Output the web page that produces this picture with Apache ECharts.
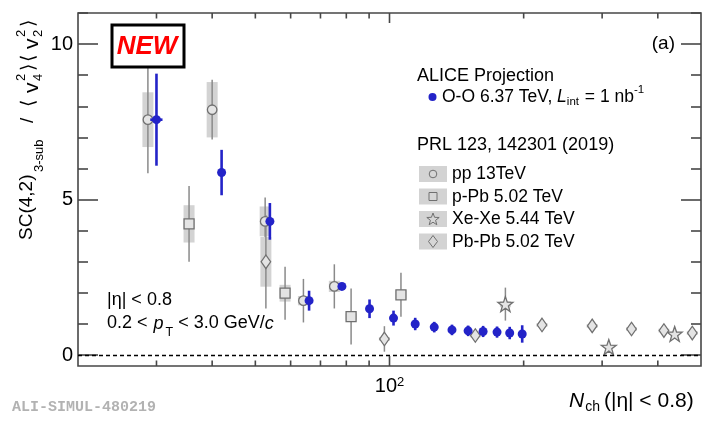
<!DOCTYPE html>
<html><head><meta charset="utf-8">
<script src="https://cdn.jsdelivr.net/npm/echarts@6/dist/echarts.min.js"></script>
<style>html,body{margin:0;padding:0;background:#fff}#c{width:718px;height:425px}</style>
</head><body><div id="c"></div>
<script>
// ---------------- data ----------------
const ooX    = [30.0, 42.0, 53.9, 66.0, 78.2, 90.2, 102.1, 114.2, 126.0, 138.1, 150.1, 162.2, 174.3, 186.1, 198.5];
const ooY    = [7.57, 5.87, 4.30, 1.75, 2.21, 1.49, 1.19, 1.00, 0.90, 0.81, 0.78, 0.76, 0.74, 0.71, 0.68];
const ooErr  = [1.48, 0.73, 0.59, 0.32, 0.10, 0.30, 0.24, 0.20, 0.17, 0.17, 0.17, 0.18, 0.18, 0.20, 0.28];
const ooXErr = [0.95, 0, 0, 0, 0, 0, 0, 0, 0, 0, 0, 0, 0, 0, 0];

const ppX    = [28.7, 40.0, 52.6, 64.1, 75.2];
const ppY    = [7.57, 7.89, 4.30, 1.75, 2.21];
const ppStat = [1.72, 0.96, 0.77, 0.70, 0.71];
const ppSys  = [0.88, 0.89, 0.48, 0.15, 0.18];

const pPbX    = [35.5, 58.3, 82.0, 106.1];
const pPbY    = [4.22, 1.99, 1.24, 1.94];
const pPbStat = [1.22, 0.85, 0.90, 0.71];
const pPbSys  = [0.60, 0.27, 0.10, 0.15];

const xeX    = [182.0, 310.5, 436.4];
const xeY    = [1.64, 0.26, 0.68];
const xeStat = [0.53, 0.05, 0.05];
const xeSys  = [0.10, 0.03, 0.03];

const pbX    = [52.8, 97.4, 155.8, 219.9, 285.0, 349.2, 412.8, 478.0];
const pbY    = [3.00, 0.52, 0.63, 0.97, 0.94, 0.84, 0.79, 0.71];
const pbStat = [1.50, 0.41, 0.05, 0.05, 0.05, 0.05, 0.05, 0.05];
const pbSys  = [0.80, 0.06, 0.06, 0.06, 0.06, 0.06, 0.06, 0.06];

const xMinorTicks = [30, 40, 50, 60, 70, 80, 90, 200, 300, 400];
const xMajorTicks = [100];
const yMinorTicks = [1, 2, 3, 4, 6, 7, 8, 9, 11];
const yMajorTicks = [0, 5, 10];
const yLabelVals = [0, 5, 10];

const X_MIN = 20, X_MAX = 500, Y_MIN = -0.35, Y_MAX = 11;

// ---------------- helpers ----------------
const FONT = '"Liberation Sans", Arial, Helvetica, sans-serif';
const mctx = document.createElement('canvas').getContext('2d');
function fnt(s) { return (s.it ? 'italic ' : '') + (s.b ? 'bold ' : '') + s.fs + 'px ' + (s.ff || FONT); }
function textEl(t, x, y, f, fill, align, extra) {
  return Object.assign({
    type: 'text', x: x, y: y, z: 50,
    style: { text: t, font: f, fill: fill || '#000', textAlign: align || 'left', textVerticalAlign: 'middle', align: align || 'left', verticalAlign: 'middle' }
  }, extra || {});
}
function textRun(segs, x0, y0, fill) {
  const els = []; let cx = x0;
  for (const s of segs) {
    cx += (s.dx || 0);
    const f = fnt(s);
    mctx.font = f;
    const w = mctx.measureText(s.t).width;
    els.push(textEl(s.t, cx, y0 + (s.dy || 0), f, s.fill || fill));
    if (!s.noAdv) cx += w;
  }
  return els;
}
const zip4 = (a, b, c, d) => a.map((v, i) => [v, b[i], c[i], d[i]]);

const GRAY_BAR = '#8a8a8a', BOX = '#d3d3d3', MK_STROKE = '#707070', MK_FILL = '#e4e4e4';
const BLUE = '#2323c8';
const FRAME = '#474747';
const STAR = 'path://M50 0 L61.76 33.82 L97.55 34.55 L69.02 56.18 L79.39 90.45 L50 70 L20.61 90.45 L30.98 56.18 L2.45 34.55 L38.24 33.82 Z';

function errRender(color, lw, boxHalf) {
  return function (params, api) {
    const x = api.value(0), y = api.value(1), s = api.value(2), sy = api.value(3);
    const c = api.coord([x, y]);
    const children = [];
    if (sy > 0) {
      const bt = api.coord([x, y + sy]), bb = api.coord([x, y - sy]);
      children.push({ type: 'rect', shape: { x: c[0] - boxHalf, y: bt[1], width: 2 * boxHalf, height: bb[1] - bt[1] }, style: { fill: BOX } });
    }
    if (s > 0) {
      const t = api.coord([x, y + s]), b = api.coord([x, y - s]);
      children.push({ type: 'line', shape: { x1: c[0], y1: t[1], x2: c[0], y2: b[1] }, style: { stroke: color, lineWidth: lw } });
    }
    return { type: 'group', children: children };
  };
}
function blueRender(params, api) {
  const x = api.value(0), y = api.value(1), s = api.value(2), xe = api.value(3);
  const c = api.coord([x, y]), t = api.coord([x, y + s]), b = api.coord([x, y - s]);
  const children = [{ type: 'line', shape: { x1: c[0], y1: t[1], x2: c[0], y2: b[1] }, style: { stroke: BLUE, lineWidth: 2.6 } }];
  if (xe > 0) {
    const l = api.coord([x - xe, y]), r = api.coord([x + xe, y]);
    children.push({ type: 'line', shape: { x1: l[0], y1: c[1], x2: r[0], y2: c[1] }, style: { stroke: BLUE, lineWidth: 2.6 } });
  }
  return { type: 'group', children: children };
}
// x-axis frame ticks on the log axis (bottom: dir=-1, top: dir=+1)
function xTickSeries(vals, edgeY, dir, len) {
  return { type: 'custom', z: 6, encode: { x: 0, y: 1 }, data: vals.map(v => [v, edgeY]),
    renderItem: function (params, api) {
      const c = api.coord([api.value(0), api.value(1)]);
      return { type: 'line', shape: { x1: c[0], y1: c[1], x2: c[0], y2: c[1] + dir * len }, style: { stroke: FRAME, lineWidth: 1.6 } };
    } };
}
function grayScatter(name, xs, ys, symbol, size) {
  return { type: 'scatter', name: name, z: 3, symbol: symbol, symbolSize: size,
    itemStyle: { color: MK_FILL, borderColor: MK_STROKE, borderWidth: 1.3, opacity: 1 },
    data: xs.map((v, i) => [v, ys[i]]) };
}
function grayErr(xs, ys, st, sy) {
  return { type: 'custom', z: 2, renderItem: errRender(GRAY_BAR, 1.5, 5.5), encode: { x: 0, y: 1 }, data: zip4(xs, ys, st, sy) };
}
function yAx(pos, vals, len, withLabels) {
  return {
    type: 'value', min: Y_MIN, max: Y_MAX, position: pos,
    axisLine: { show: false }, splitLine: { show: false },
    axisTick: { show: true, inside: true, length: len, customValues: vals, lineStyle: { color: FRAME, width: 1.6 } },
    axisLabel: withLabels
      ? { customValues: yLabelVals, fontSize: 20, fontFamily: FONT, color: '#000', margin: 5 }
      : { show: false }
  };
}

// ---------------- chart ----------------
const chart = echarts.init(document.getElementById('c'));
chart.setOption({
  animation: false,
  grid: { left: 78, right: 17, top: 13, bottom: 59, show: true, borderColor: FRAME, borderWidth: 1.6 },
  xAxis: {
    type: 'log', logBase: 10, min: X_MIN, max: X_MAX,
    axisLine: { show: false }, axisTick: { show: false }, splitLine: { show: false }, minorTick: { show: false },
    axisLabel: {
      margin: 10, formatter: v => (Math.abs(v - 100) < 1e-6 ? '{a|10}{b|2}' : ''),
      rich: { a: { fontSize: 20, fontFamily: FONT, color: '#000' }, b: { fontSize: 13, fontFamily: FONT, color: '#000', verticalAlign: 'top', lineHeight: 8 } }
    }
  },
  yAxis: [
    yAx('left', yMajorTicks, 20, true),
    yAx('left', yMinorTicks, 10, false),
    yAx('right', yMajorTicks, 20, false),
    yAx('right', yMinorTicks, 10, false)
  ],
  series: [
    xTickSeries(xMinorTicks, Y_MIN, -1, 5.5),
    xTickSeries(xMajorTicks, Y_MIN, -1, 10),
    xTickSeries(xMinorTicks, Y_MAX, 1, 5.5),
    xTickSeries(xMajorTicks, Y_MAX, 1, 10),
    grayErr(ppX, ppY, ppStat, ppSys),
    grayErr(pPbX, pPbY, pPbStat, pPbSys),
    grayErr(xeX, xeY, xeStat, xeSys),
    grayErr(pbX, pbY, pbStat, pbSys),
    grayScatter('pp 13TeV', ppX, ppY, 'circle', 9.5),
    grayScatter('p-Pb 5.02 TeV', pPbX, pPbY, 'rect', 10),
    grayScatter('Xe-Xe 5.44 TeV', xeX, xeY, STAR, 15),
    grayScatter('Pb-Pb 5.02 TeV', pbX, pbY, 'diamond', [9.5, 13.5]),
    { type: 'custom', z: 4, renderItem: blueRender, encode: { x: 0, y: 1 }, data: zip4(ooX, ooY, ooErr, ooXErr) },
    { type: 'scatter', name: 'O-O 6.37 TeV', z: 5, symbol: 'circle', symbolSize: 9, itemStyle: { color: BLUE, opacity: 1 },
      data: ooX.map((v, i) => [v, ooY[i]]),
      markLine: { silent: true, symbol: ['none', 'none'], label: { show: false },
        lineStyle: { color: '#000', type: [4, 3], width: 1.3 }, data: [{ yAxis: 0 }] } }
  ]
});

// ---------------- graphic (text, legend) ----------------
const G = [];
G.push({ type: 'rect', z: 60, shape: { x: 112, y: 25, width: 72, height: 42 }, style: { fill: '#fff', stroke: '#000', lineWidth: 3 } });
G.push(Object.assign(textEl('NEW', 147, 47, 'italic bold 26px ' + FONT, '#ff0000', 'center'), { z: 61 }));
G.push(textEl('(a)', 675, 44, '19px ' + FONT, '#000', 'right'));
G.push(textEl('ALICE Projection', 417, 76, '18px ' + FONT));
G.push({ type: 'circle', z: 50, shape: { cx: 432.5, cy: 97, r: 4 }, style: { fill: BLUE } });
textRun([
  { t: 'O-O 6.37 TeV, ', fs: 17.5 },
  { t: 'L', fs: 17.5, it: true },
  { t: 'int', fs: 11.5, dy: 5 },
  { t: ' = 1 nb', fs: 17.5, dx: 1 },
  { t: '-1', fs: 11.5, dy: -7 }
], 442, 97).forEach(e => G.push(e));
G.push(textEl('PRL 123, 142301 (2019)', 417, 145, '18px ' + FONT));
const legRows = [
  { label: 'pp 13TeV', y: 174, sym: 'circle' },
  { label: 'p-Pb 5.02 TeV', y: 196.5, sym: 'square' },
  { label: 'Xe-Xe 5.44 TeV', y: 219, sym: 'star' },
  { label: 'Pb-Pb 5.02 TeV', y: 241.5, sym: 'diamond' }
];
function legSt() { return { fill: '#d6d6d6', stroke: MK_STROKE, lineWidth: 1 }; }
legRows.forEach(r => {
  G.push({ type: 'rect', z: 49, shape: { x: 419, y: r.y - 8, width: 28, height: 16 }, style: { fill: BOX } });
  const cx = 433, cy = r.y;
  if (r.sym === 'circle') G.push({ type: 'circle', z: 50, shape: { cx: cx, cy: cy, r: 3.8 }, style: legSt() });
  if (r.sym === 'square') G.push({ type: 'rect', z: 50, shape: { x: cx - 4, y: cy - 4, width: 8, height: 8 }, style: legSt() });
  if (r.sym === 'diamond') G.push({ type: 'polygon', z: 50, shape: { points: [[cx, cy - 6], [cx + 4.5, cy], [cx, cy + 6], [cx - 4.5, cy]] }, style: legSt() });
  if (r.sym === 'star') {
    const pts = [];
    for (let k = 0; k < 10; k++) {
      const a = -Math.PI / 2 + k * Math.PI / 5, rr = k % 2 ? 2.7 : 6.5;
      pts.push([cx + rr * Math.cos(a), cy + 0.5 + rr * Math.sin(a)]);
    }
    G.push({ type: 'polygon', z: 50, shape: { points: pts }, style: legSt() });
  }
  G.push(textEl(r.label, 452, r.y + 0.5, '17.5px ' + FONT));
});
G.push(textEl('|η| < 0.8', 107, 300.5, '18px ' + FONT));
textRun([
  { t: '0.2 < ', fs: 18 },
  { t: 'p', fs: 18, it: true, dx: 1 },
  { t: 'T', fs: 12.5, dy: 9, dx: 2 },
  { t: '< 3.0 GeV/', fs: 18, dx: 5 },
  { t: 'c', fs: 18, it: true }
], 107, 323.5).forEach(e => G.push(e));
textRun([
  { t: 'N', fs: 21, it: true },
  { t: 'ch', fs: 14, dy: 6, dx: 1 },
  { t: '(|η| < 0.8)', fs: 21, dx: 4 }
], 569, 401).forEach(e => G.push(e));
const ytt = [
  ['SC(4,2)', 0, 0, 19], ['3-sub', 68, 12, 13], ['/', 117, 1, 19], ['⟨', 133, 2, 19],
  ['v', 147, 5, 21], ['2', 159, -6, 13], ['4', 159, 11, 13], ['⟩', 169, 2, 19],
  ['⟨', 178, 2, 19], ['v', 191, 5, 21], ['2', 203, -6, 13], ['2', 203, 11, 13], ['⟩', 213, 2, 19]
];
G.push({ type: 'group', x: 27, y: 240, rotation: Math.PI / 2, z: 50,
  children: ytt.map(a => textEl(a[0], a[1], a[2], a[3] + 'px ' + FONT + ', "DejaVu Sans"')) });
G.push(textEl('ALI-SIMUL-480219', 12, 407, 'bold 15px "Liberation Mono", "DejaVu Sans Mono", monospace', '#b2b2b2'));

chart.setOption({ graphic: { elements: G } });
</script></body></html>
